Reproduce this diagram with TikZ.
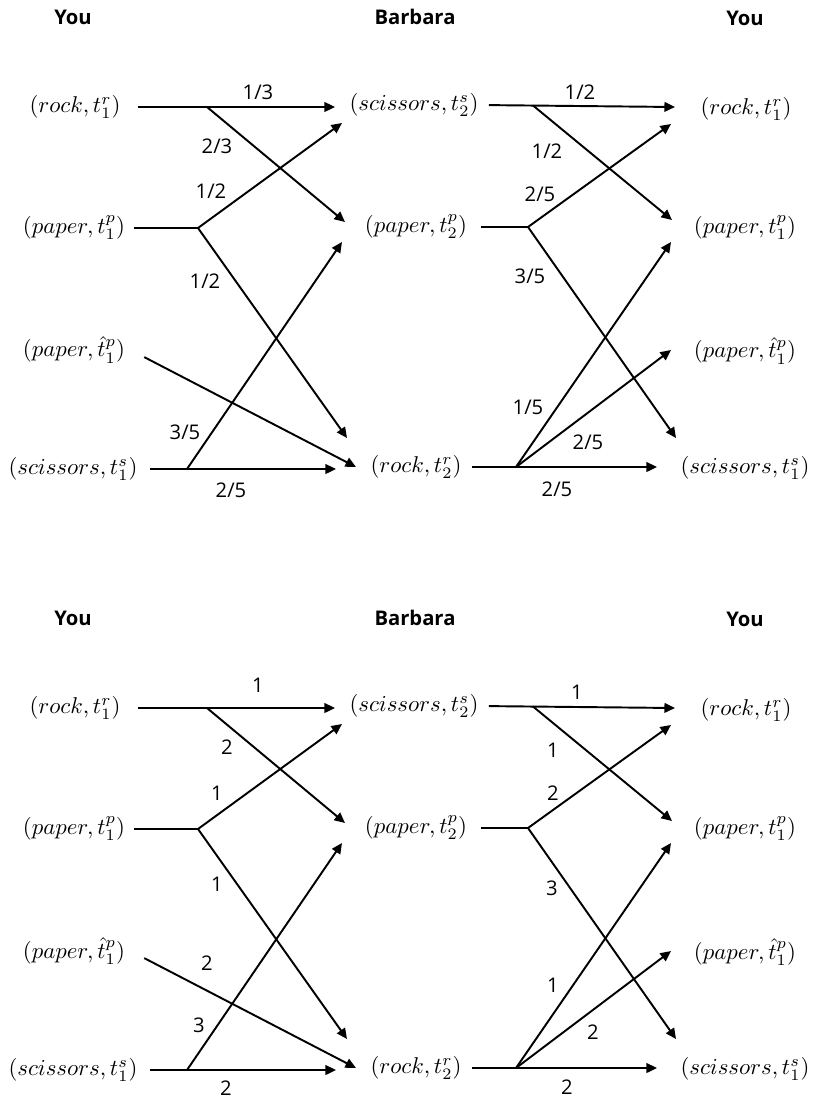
\documentclass[tikz,border=0pt]{standalone}
\usepackage{fontspec}
\setsansfont{Open Sans}
\usetikzlibrary{arrows.meta}

\begin{document}
\begin{tikzpicture}[x=0.02cm, y=-0.02cm,
	choice/.style={inner sep=0pt, scale=1.3, transform shape},
	player/.style={font=\sffamily\bfseries\fontsize{11.5}{14}\selectfont},
	weight/.style={inner sep=0pt, font=\sffamily\fontsize{11.5}{14}\selectfont},
	move/.style={line width=1.1pt},
	arr/.style={move, -{Triangle[length=6pt, width=5.5pt]}}]
	\useasboundingbox (0,0) rectangle (814,1099);

	\foreach \d/\dy in {t/0, b/601}{
		\begin{scope}[shift={(0,\dy)}]
			\node[player] (\d-you1) at (73,17) {You};
			\node[player] (\d-barb) at (415,17) {Barbara};
			\node[player] (\d-you2) at (745,18) {You};

			\node[choice] (\d-l1) at (75,107) {$(rock,t_1^r)$};
			\node[choice] (\d-l2) at (74,228) {$(paper,t_1^p)$};
			\node[choice] (\d-l3) at (74,350) {$(paper,\hat{t}_1^p)$};
			\node[choice] (\d-l4) at (73,469) {$(scissors,t_1^s)$};

			\node[choice] (\d-m1) at (414,105) {$(scissors,t_2^s)$};
			\node[choice] (\d-m2) at (416,227) {$(paper,t_2^p)$};
			\node[choice] (\d-m3) at (416,467) {$(rock,t_2^r)$};

			\node[choice] (\d-r1) at (746,109) {$(rock,t_1^r)$};
			\node[choice] (\d-r2) at (745,228) {$(paper,t_1^p)$};
			\node[choice] (\d-r3) at (745,351) {$(paper,\hat{t}_1^p)$};
			\node[choice] (\d-r4) at (745,468) {$(scissors,t_1^s)$};

			\coordinate (\d-a1) at (207,107);
			\coordinate (\d-a2) at (198,228);
			\coordinate (\d-a4) at (187,469);
			\coordinate (\d-b1) at (533,105.5);
			\coordinate (\d-b2) at (528,227);
			\coordinate (\d-b3) at (516,467);

			\coordinate (\d-t1) at (335,107);
			\coordinate (\d-t2) at (345,222);
			\coordinate (\d-t3) at (342,123);
			\coordinate (\d-t4) at (347,438);
			\coordinate (\d-t5) at (356,467);
			\coordinate (\d-t6) at (336,469);
			\coordinate (\d-t7) at (342,242);
			\coordinate (\d-u1) at (675,107);
			\coordinate (\d-u2) at (672,220);
			\coordinate (\d-u3) at (671,124);
			\coordinate (\d-u4) at (676,438);
			\coordinate (\d-u5) at (657,467);
			\coordinate (\d-u6) at (671,242);
			\coordinate (\d-u7) at (671,350);

			\draw[arr, shorten <=9.6pt] (\d-l1.east) -- (\d-t1);
			\draw[arr] (\d-a1) -- (\d-t2);
			\draw[move, shorten <=5pt] (\d-l2.east) -- (\d-a2);
			\draw[arr] (\d-a2) -- (\d-t3);
			\draw[arr] (\d-a2) -- (\d-t4);
			\draw[arr, shorten <=12pt] ([yshift=1.5pt]\d-l3.east) -- (\d-t5);
			\draw[arr, shorten <=6.8pt] (\d-l4.east) -- (\d-t6);
			\draw[arr] (\d-a4) -- (\d-t7);

			\draw[arr, shorten <=5.7pt] (\d-m1.east) -- (\d-u1);
			\draw[arr] (\d-b1) -- (\d-u2);
			\draw[move, shorten <=7.4pt] (\d-m2.east) -- (\d-b2);
			\draw[arr] (\d-b2) -- (\d-u3);
			\draw[arr] (\d-b2) -- (\d-u4);
			\draw[arr, shorten <=5.7pt] (\d-m3.east) -- (\d-u5);
			\draw[arr] (\d-b3) -- (\d-u6);
			\draw[arr] (\d-b3) -- (\d-u7);
		\end{scope}
	}

	\foreach \x/\y/\w [count=\i] in {
		258/92/{1/3}, 217/146/{2/3}, 211/191/{1/2}, 205/281/{1/2},
		185/432/{3/5}, 231/490/{2/5},
		580/92/{1/2}, 547/151/{1/2}, 540/194/{2/5}, 530/276/{3/5},
		528/407/{1/5}, 588/442/{2/5}, 557/489/{2/5}}{
		\node[weight] (wt\i) at (\x,\y) {\w};
	}
	\foreach \x/\y/\w [count=\i] in {
		258/685/1, 227/747/2, 217/793/1, 217/884/1, 207/963/2,
		199/1025/3, 226/1088/2,
		577/692/1, 553/750/1, 553/793/2, 552/888/3,
		553/985/1, 593/1032/2, 567/1087/2}{
		\node[weight] (wb\i) at (\x,\y) {\w};
	}
\end{tikzpicture}
\end{document}
